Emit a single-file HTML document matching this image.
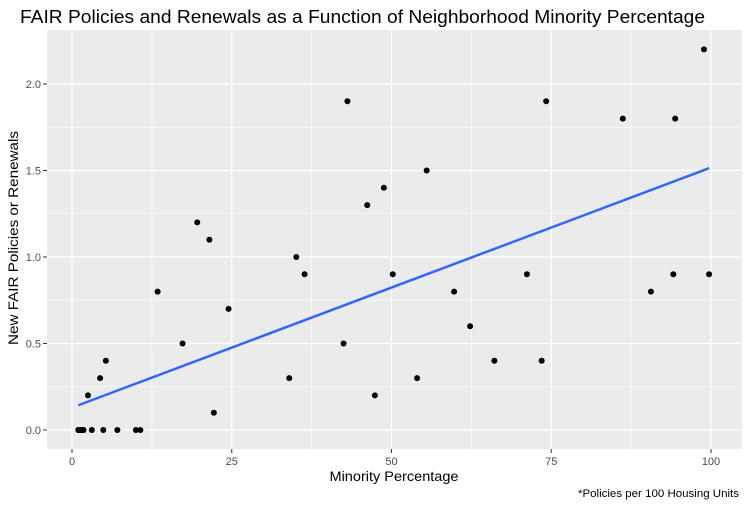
<!DOCTYPE html>
<html><head><meta charset="utf-8"><style>
body{margin:0;background:#fff;font-family:"Liberation Sans",sans-serif}
</style></head><body>
<svg width="749" height="509" xmlns="http://www.w3.org/2000/svg" font-family="Liberation Sans, sans-serif">
<text x="20" y="23" font-size="18" fill="#000" textLength="685" lengthAdjust="spacingAndGlyphs">FAIR Policies and Renewals as a Function of Neighborhood Minority Percentage</text>
<rect x="47" y="30" width="695" height="419" fill="#ebebeb"/>
<g id="grid"></g>
<g id="axes"></g>
<g id="marks"></g>
<text x="394" y="481" font-size="14" text-anchor="middle" textLength="129" lengthAdjust="spacingAndGlyphs">Minority Percentage</text>
<text transform="translate(18,238) rotate(-90)" font-size="14" text-anchor="middle" textLength="214" lengthAdjust="spacingAndGlyphs">New FAIR Policies or Renewals</text>
<text x="739" y="497" font-size="11" text-anchor="end" textLength="161" lengthAdjust="spacingAndGlyphs">*Policies per 100 Housing Units</text>
</svg>
<script>
const race=[10.0,22.2,19.6,17.3,24.5,54.0,4.9,7.1,5.3,21.5,43.1,1.1,1.0,1.7,1.6,1.5,1.8,1.0,2.5,13.4,59.8,94.4,86.2,50.2,74.2,55.5,62.3,4.4,46.2,99.7,73.5,10.7,1.5,48.8,98.9,90.6,1.4,71.2,94.1,66.1,36.4,1.0,42.5,35.1,47.4,34.0,3.1];
const involact=[0.0,0.1,1.2,0.5,0.7,0.3,0.0,0.0,0.4,1.1,1.9,0.0,0.0,0.0,0.0,0.0,0.0,0.0,0.2,0.8,0.8,1.8,1.8,0.9,1.9,1.5,0.6,0.3,1.3,0.9,0.4,0.0,0.0,1.4,2.2,0.8,0.0,0.9,0.9,0.4,0.9,0.0,0.5,1.0,0.2,0.3,0.0];
const xTicks=[0,25,50,75,100];
const yTicks=[0.0,0.5,1.0,1.5,2.0];
const NS="http://www.w3.org/2000/svg";
const X=v=>72+v*6.39, Y=v=>430-v*173;
function mk(tag,attrs,parent){const e=document.createElementNS(NS,tag);for(const k in attrs)e.setAttribute(k,attrs[k]);document.getElementById(parent).appendChild(e);return e;}
xTicks.forEach((t,i)=>{
 if(i<xTicks.length-1){const m=mk('line',{x1:X(t+12.5),x2:X(t+12.5),y1:30,y2:449,stroke:'#fff','stroke-width':0.6},'grid');
 
 }
 const g=mk('line',{x1:X(t),x2:X(t),y1:30,y2:449,stroke:'#fff','stroke-width':1.2},'grid');
 
 
 mk('line',{x1:X(t),x2:X(t),y1:449,y2:453,stroke:'#333','stroke-width':1},'axes');
 const l=mk('text',{x:X(t),y:465,'font-size':11,fill:'#4d4d4d','text-anchor':'middle'},'axes');
 l.textContent=t;
 
 
});
yTicks.forEach((t,i)=>{
 if(i<yTicks.length-1){const m=mk('line',{x1:47,x2:742,y1:Y(t+0.25),y2:Y(t+0.25),stroke:'#fff','stroke-width':0.6},'grid');
 
 }
 const g=mk('line',{x1:47,x2:742,y1:Y(t),y2:Y(t),stroke:'#fff','stroke-width':1.2},'grid');
 
 
 mk('line',{x1:43,x2:47,y1:Y(t),y2:Y(t),stroke:'#333','stroke-width':1},'axes');
 const l=mk('text',{x:41,y:Y(t)+4,'font-size':11,fill:'#4d4d4d','text-anchor':'end'},'axes');
 l.textContent=t.toFixed(1);
 
 
});
const n=race.length;let mx=0,my=0;for(let i=0;i<n;i++){mx+=race[i];my+=involact[i];}mx/=n;my/=n;
let sxy=0,sxx=0;for(let i=0;i<n;i++){sxy+=(race[i]-mx)*(involact[i]-my);sxx+=(race[i]-mx)**2;}
const b=sxy/sxx,a=my-b*mx;const x0=Math.min(...race),x1=Math.max(...race);
const fit=mk('line',{x1:X(x0),y1:Y(a+b*x0),x2:X(x1),y2:Y(a+b*x1),stroke:'#3366ff','stroke-width':2.5},'marks');


for(let i=0;i<n;i++){
 const c=mk('circle',{cx:X(race[i]),cy:Y(involact[i]),r:3,fill:'#000'},'marks');
 
 
}
</script>
</body></html>
